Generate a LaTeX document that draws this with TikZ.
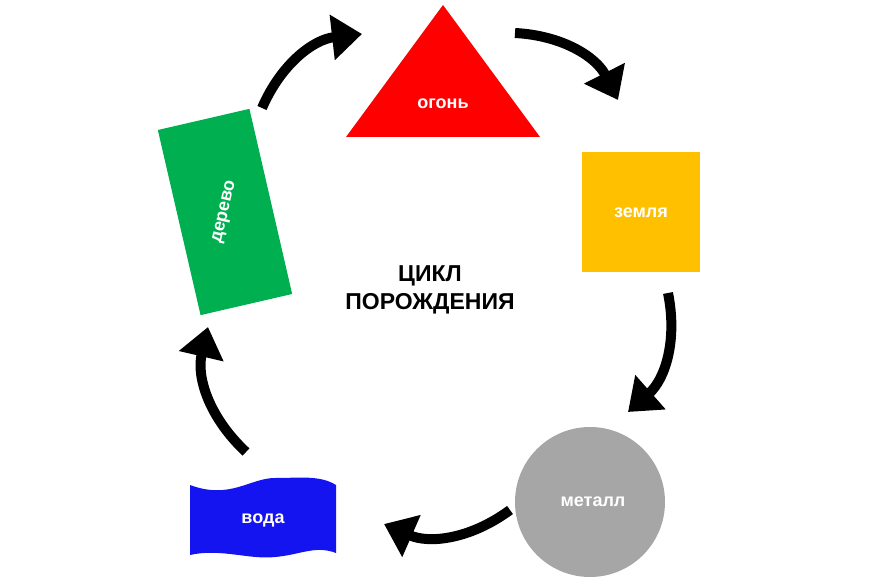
\documentclass[tikz,border=0pt]{standalone}
\usepackage{fontspec}
\setmainfont{Liberation Sans}
\usetikzlibrary{arrows.meta}
\definecolor{fire}{RGB}{255,0,0}
\definecolor{earth}{RGB}{255,192,0}
\definecolor{metal}{RGB}{166,166,166}
\definecolor{water}{RGB}{20,20,240}
\definecolor{wood}{RGB}{0,176,80}
\tikzset{
  lbl/.style={text=white, font=\bfseries\fontsize{18}{21}\selectfont},
  cyc/.style={line width=10pt, -{Triangle[length=30pt,width=44pt]}},
}
\begin{document}
\begin{tikzpicture}[x=1pt, y=-1pt]
\useasboundingbox (0,0) rectangle (878,585);
% elements
\fill[fire] (346,137) -- (540,137) -- (443,5) -- cycle;
\node[lbl] (fire) at (443,104) {огонь};
\fill[earth] (582,152) rectangle (700,272);
\node[lbl] (earth) at (641,213) {земля};
\fill[metal] (590,502) circle (75);
\node[lbl] (metal) at (593,502) {металл};
\fill[water] (190,485) .. controls (230,500) and (250,478) .. (275,478)
  .. controls (300,478) and (320,475) .. (336,485) -- (336,553)
  .. controls (315,545) and (300,555) .. (275,557)
  .. controls (250,560) and (220,548) .. (190,555) -- cycle;
\node[lbl] (water) at (263,520) {вода};
\fill[wood, rotate around={13:(225,212)}] (178,117) rectangle (272,307);
\node[lbl, rotate=77] (wood) at (225,212) {дерево};
\node[font=\bfseries\fontsize{23}{28}\selectfont, align=center] (title) at (430,290) {ЦИКЛ\\ПОРОЖДЕНИЯ};
% arrows
\coordinate (a1) at (262,108); \coordinate (b1) at (362,34);
\coordinate (a2) at (515,33);  \coordinate (b2) at (618,100);
\coordinate (a3) at (668,293); \coordinate (b3) at (628,412);
\coordinate (a4) at (510,510); \coordinate (b4) at (384,524);
\coordinate (a5) at (246,452); \coordinate (b5) at (208,327);
\draw[cyc] (a1) to[bend left=30] (b1);
\draw[cyc] (a2) to[bend left=30] (b2);
\draw[cyc] (a3) to[bend left=30] (b3);
\draw[cyc] (a4) to[bend left=30] (b4);
\draw[cyc] (a5) to[bend left=30] (b5);
\end{tikzpicture}
\end{document}
